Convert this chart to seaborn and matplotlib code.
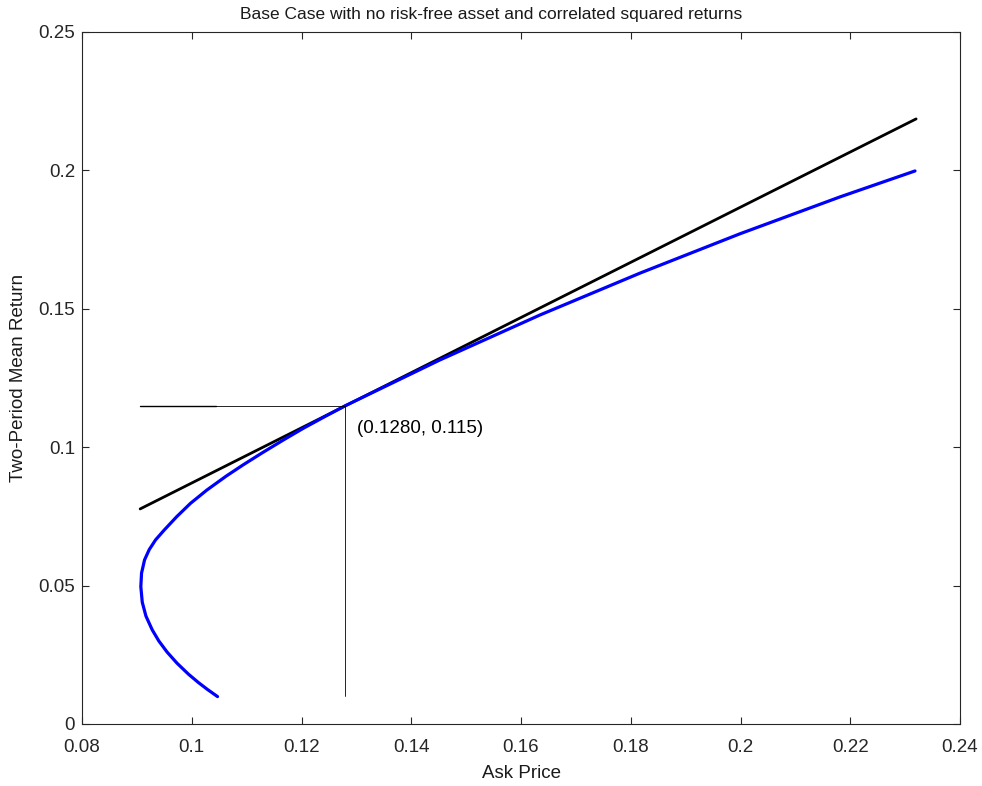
import matplotlib
matplotlib.use("Agg")
import matplotlib.pyplot as plt
import seaborn as sns
import pandas as pd

# Frontier (blue) curve: ask price vs two-period mean return
frontier_x = [0.10470, 0.10285, 0.10120, 0.09940, 0.09730, 0.09550, 0.09400, 0.09280,
              0.09165, 0.09098, 0.09072, 0.09085, 0.09140, 0.09225, 0.09340, 0.09495,
              0.09726, 0.09976, 0.10274, 0.10631, 0.10935, 0.11287, 0.11669, 0.12030,
              0.12420, 0.12800, 0.1452, 0.1635, 0.1817, 0.1999, 0.2181, 0.2318]
frontier_y = [0.0099, 0.0125, 0.0150, 0.0180, 0.0220, 0.0260, 0.0300, 0.0340,
              0.0390, 0.0440, 0.0496, 0.0545, 0.0593, 0.0630, 0.0665, 0.0700,
              0.0749, 0.0797, 0.0845, 0.0896, 0.0936, 0.0980, 0.1026, 0.1068,
              0.1110, 0.1150, 0.1315, 0.1478, 0.1629, 0.1771, 0.1904, 0.1998]

# Tangent (black) line
tangent_x = [0.0906, 0.2320]
tangent_y = [0.0777, 0.2186]

# Tangency point and guides
tan_pt_x = 0.1280
tan_pt_y = 0.115
guide_left_x = 0.0906
guide_thick_end_x = 0.1045
guide_bottom_y = 0.010
label_text = "(0.1280, 0.115)"
title_text = "Base Case with no risk-free asset and correlated squared returns"
x_label = "Ask Price"
y_label = "Two-Period Mean Return"

x_ticks = [0.08, 0.10, 0.12, 0.14, 0.16, 0.18, 0.20, 0.22, 0.24]
x_ticklabels = ["0.08", "0.1", "0.12", "0.14", "0.16", "0.18", "0.2", "0.22", "0.24"]
y_ticks = [0, 0.05, 0.10, 0.15, 0.20, 0.25]
y_ticklabels = ["0", "0.05", "0.1", "0.15", "0.2", "0.25"]

sns.set_theme(style="white")
plt.rcParams["font.family"] = ["Liberation Sans", "DejaVu Sans"]
plt.rcParams["axes.edgecolor"] = "#262626"
plt.rcParams["xtick.color"] = "#262626"
plt.rcParams["ytick.color"] = "#262626"
plt.rcParams["text.color"] = "#1a1a1a"
plt.rcParams["axes.labelcolor"] = "#1a1a1a"

FS = 13.5

fig = plt.figure(figsize=(9.82, 7.86), dpi=100)
ax = fig.add_axes([82 / 982, 62 / 786, 878 / 982, 692 / 786])

df_front = pd.DataFrame({"x": frontier_x, "y": frontier_y})
df_tan = pd.DataFrame({"x": tangent_x, "y": tangent_y})

sns.lineplot(data=df_tan, x="x", y="y", sort=False, color="black", lw=2.0,
             ax=ax, solid_capstyle="round", estimator=None)
sns.lineplot(data=df_front, x="x", y="y", sort=False, color="#0000ff", lw=2.3,
             ax=ax, solid_capstyle="round", solid_joinstyle="round", estimator=None)

# guide lines
ax.plot([guide_left_x, tan_pt_x], [tan_pt_y, tan_pt_y], color="black", lw=0.6)
ax.plot([guide_left_x, guide_thick_end_x], [tan_pt_y, tan_pt_y], color="black", lw=1.0)
ax.plot([tan_pt_x, tan_pt_x], [guide_bottom_y, tan_pt_y], color="black", lw=0.6)
ax.text(0.1301, 0.1069, label_text, fontsize=FS, va="center", ha="left", color="black")

ax.set_xlim(0.08, 0.24)
ax.set_ylim(0, 0.25)
ax.set_xticks(x_ticks)
ax.set_xticklabels(x_ticklabels)
ax.set_yticks(y_ticks)
ax.set_yticklabels(y_ticklabels)
ax.tick_params(direction="in", length=5, width=0.8, labelsize=FS,
               top=True, right=True, bottom=True, left=True)
ax.tick_params(axis="x", pad=11)
ax.tick_params(axis="y", pad=5)
for s in ax.spines.values():
    s.set_linewidth(0.8)
    s.set_visible(True)

ax.set_xlabel(x_label, fontsize=FS)
ax.set_ylabel(y_label, fontsize=FS)
ax.xaxis.label.set_verticalalignment("center")
ax.yaxis.label.set_verticalalignment("center")
ax.xaxis.set_label_coords(0.5, (724 - 774) / 692)
ax.yaxis.set_label_coords((19 - 82) / 878, 0.5)

fig.text(0.5, 1 - 14 / 786, title_text, fontsize=12.5, ha="center", va="center")

fig.savefig("out.png", dpi=100, facecolor="white")
